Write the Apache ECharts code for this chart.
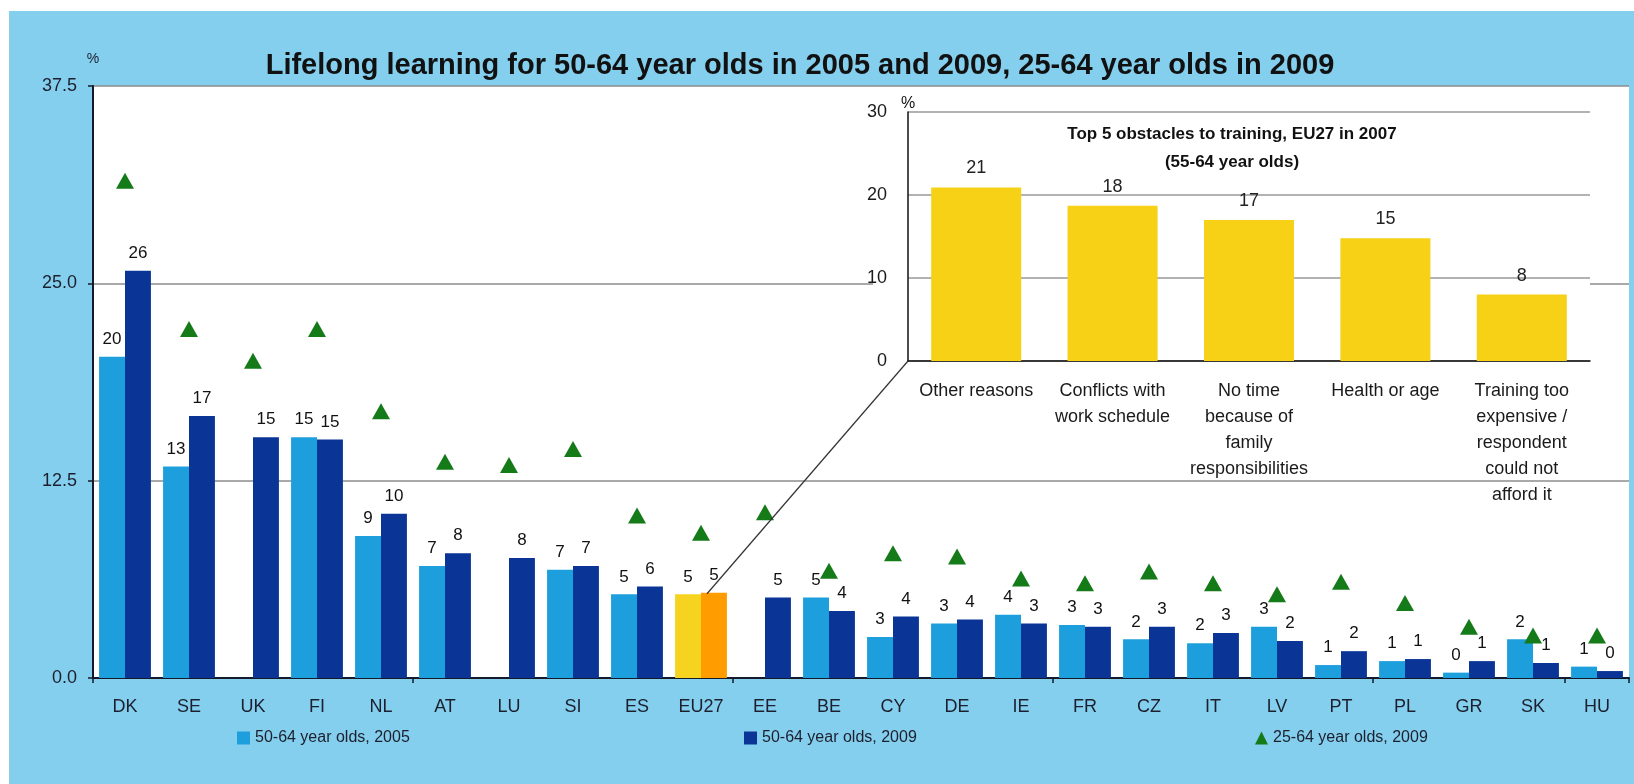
<!DOCTYPE html>
<html>
<head>
<meta charset="utf-8">
<script src="https://cdn.jsdelivr.net/npm/echarts@6/dist/echarts.min.js"></script>
<style>
html,body{margin:0;padding:0;background:#fff;}
#chart{position:absolute;left:9px;top:11px;width:1625px;height:773px;}
</style>
</head>
<body>
<div id="chart"></div>
<script>
// ---- data ----
const countries = ['DK','SE','UK','FI','NL','AT','LU','SI','ES','EU27','EE','BE','CY','DE','IE','FR','CZ','IT','LV','PT','PL','GR','SK','HU'];
const olds5064_2005 = [20.35, 13.4, null, 15.25, 9.0, 7.1, null, 6.85, 5.3, 5.3, null, 5.1, 2.6, 3.45, 4.0, 3.36, 2.45, 2.2, 3.24, 0.82, 1.07, 0.34, 2.45, 0.72];
const olds5064_2009 = [25.8, 16.6, 15.25, 15.1, 10.4, 7.9, 7.6, 7.1, 5.8, 5.4, 5.1, 4.25, 3.9, 3.7, 3.45, 3.24, 3.24, 2.85, 2.35, 1.7, 1.2, 1.07, 0.95, 0.44];
const olds2564_2009 = [31.5, 22.1, 20.1, 22.1, 16.9, 13.7, 13.5, 14.5, 10.3, 9.2, 10.5, 6.8, 7.9, 7.7, 6.3, 6.0, 6.75, 6.0, 5.3, 6.1, 4.75, 3.25, 2.7, 2.7];
const mainTicks = [0, 12.5, 25, 37.5];

const obstacles = ['Other reasons', 'Conflicts with\nwork schedule', 'No time\nbecause of\nfamily\nresponsibilities', 'Health or age', 'Training too\nexpensive /\nrespondent\ncould not\nafford it'];
const obstacleValues = [20.9, 18.7, 17.0, 14.8, 8.0];
const obstacleLabels = ['21', '18', '17', '15', '8'];

const seriesNames = ['50-64 year olds, 2005', '50-64 year olds, 2009', '25-64 year olds, 2009'];

// ---- styles ----
const FONT = "'Liberation Sans', Arial, sans-serif";
const TXT = '#1b1f2e';
const C05 = '#1c9fdc', C09 = '#0a3597', CTRI = '#157a18';
const EU_C05 = '#f6d31e', EU_C09 = '#ff9d00', INSET_C = '#f6d116';
const MAIN = {left: 84, right: 5, top: 75, height: 592};
const INSET = {left: 899, top: 101, width: 682, height: 249};

const euIdx = countries.indexOf('EU27');
const d05 = olds5064_2005.map((v, i) => i === euIdx ? {value: v, itemStyle: {color: EU_C05}} : v);
const d09 = olds5064_2009.map((v, i) => i === euIdx ? {value: v, itemStyle: {color: EU_C09}} : v);

const chart = echarts.init(document.getElementById('chart'));
const barLabel = {
  show: true, position: 'top', distance: 9, color: '#111', fontSize: 17, fontFamily: FONT,
  formatter: p => (p.value == null || isNaN(p.value)) ? '' : String(Math.round(p.value))
};
const legendBase = {top: 714, itemWidth: 13, itemHeight: 13, itemGap: 5,
  textStyle: {fontSize: 16, color: TXT, fontFamily: FONT}, selectedMode: false};

chart.setOption({
  backgroundColor: '#85cfee',
  animation: false,
  textStyle: {fontFamily: FONT},
  title: [
    {text: 'Lifelong learning for 50-64 year olds in 2005 and 2009, 25-64 year olds in 2009',
     left: 791, textAlign: 'center', top: 40, padding: 0,
     textStyle: {fontSize: 29, fontWeight: 'bold', color: '#111', fontFamily: FONT}},
    {text: 'Top 5 obstacles to training, EU27 in 2007\n(55-64 year olds)',
     left: 1223, textAlign: 'center', top: 109, padding: 0, z: 20,
     textStyle: {fontSize: 17, fontWeight: 'bold', color: '#111', lineHeight: 28, fontFamily: FONT}}
  ],
  legend: [
    Object.assign({}, legendBase, {left: 223, data: [{name: seriesNames[0], icon: 'rect'}]}),
    Object.assign({}, legendBase, {left: 730, data: [{name: seriesNames[1], icon: 'rect'}]}),
    Object.assign({}, legendBase, {left: 1241, data: [{name: seriesNames[2], icon: 'triangle'}]})
  ],
  grid: [
    {left: MAIN.left, right: MAIN.right, top: MAIN.top, height: MAIN.height,
     show: true, backgroundColor: '#fff', borderWidth: 0},
    {left: INSET.left, top: INSET.top, width: INSET.width, height: INSET.height, z: 5}
  ],
  xAxis: [
    {type: 'category', gridIndex: 0, data: countries,
     axisLine: {lineStyle: {color: '#141a2a', width: 2}},
     axisTick: {show: true, interval: 4, length: 5, lineStyle: {color: '#141a2a', width: 1.5}},
     axisLabel: {interval: 0, margin: 20, fontSize: 18, color: TXT, fontFamily: FONT}},
    {type: 'category', gridIndex: 1, data: obstacles, z: 6,
     axisLine: {lineStyle: {color: '#111', width: 1.5}},
     axisTick: {show: false},
     axisLabel: {interval: 0, margin: 17, fontSize: 18, lineHeight: 26, color: '#1a1a1a', fontFamily: FONT}}
  ],
  yAxis: [
    {type: 'value', gridIndex: 0, min: 0, max: 37.5, interval: 12.5,
     name: '%', nameLocation: 'end', nameGap: 20,
     nameTextStyle: {fontSize: 14, color: TXT, align: 'center', fontFamily: FONT},
     axisLine: {show: true, lineStyle: {color: '#141a2a', width: 2}},
     axisTick: {show: true, length: 5, lineStyle: {color: '#141a2a', width: 1.5}},
     splitLine: {lineStyle: {color: '#8c8c8c', width: 1.5}},
     axisLabel: {margin: 16, fontSize: 18, color: TXT, fontFamily: FONT,
       formatter: v => mainTicks.indexOf(v) >= 0 ? v.toFixed(1) : ''}},
    {type: 'value', gridIndex: 1, min: 0, max: 30, interval: 10, z: 6,
     name: '%', nameLocation: 'end', nameGap: 0,
     nameTextStyle: {fontSize: 16, color: '#111', align: 'center', fontFamily: FONT},
     axisLine: {show: true, lineStyle: {color: '#111', width: 1.5}},
     axisTick: {show: false},
     splitLine: {lineStyle: {color: '#999', width: 1.5}},
     axisLabel: {margin: 21, fontSize: 18, color: '#1a1a1a', fontFamily: FONT}}
  ],
  series: [
    {name: seriesNames[0], type: 'bar', xAxisIndex: 0, yAxisIndex: 0, data: d05,
     itemStyle: {color: C05}, barGap: '0%', barCategoryGap: '19%', label: barLabel, z: 3},
    {name: seriesNames[1], type: 'bar', xAxisIndex: 0, yAxisIndex: 0, data: d09,
     itemStyle: {color: C09}, barGap: '0%', barCategoryGap: '19%', label: barLabel, z: 3},
    {name: seriesNames[2], type: 'scatter', xAxisIndex: 0, yAxisIndex: 0, data: olds2564_2009,
     symbol: 'triangle', symbolSize: [18, 16], itemStyle: {color: CTRI, opacity: 1}, z: 6},
    {name: 'obstacles', type: 'bar', xAxisIndex: 1, yAxisIndex: 1, data: obstacleValues,
     itemStyle: {color: INSET_C}, barCategoryGap: '34%', z: 7,
     label: {show: true, position: 'top', distance: 10, fontSize: 18, color: '#222', fontFamily: FONT,
       formatter: p => obstacleLabels[p.dataIndex]}}
  ]
});

// inset background and connector line
const p1 = chart.convertToPixel({xAxisIndex: 0, yAxisIndex: 0}, ['EU27', olds5064_2009[euIdx]]);
const origin = [INSET.left, INSET.top + INSET.height];
const rectLeft = 864;
chart.setOption({
  graphic: [
    {type: 'rect', z: 1, silent: true,
     shape: {x: rectLeft, y: 77, width: INSET.left + INSET.width - rectLeft, height: 384},
     style: {fill: '#fff'}},
    {type: 'line', z: 30, silent: true,
     shape: {x1: p1[0] + 6, y1: p1[1] + 1, x2: origin[0], y2: origin[1]},
     style: {stroke: '#333', lineWidth: 1.2}}
  ]
});
</script>
</body>
</html>
